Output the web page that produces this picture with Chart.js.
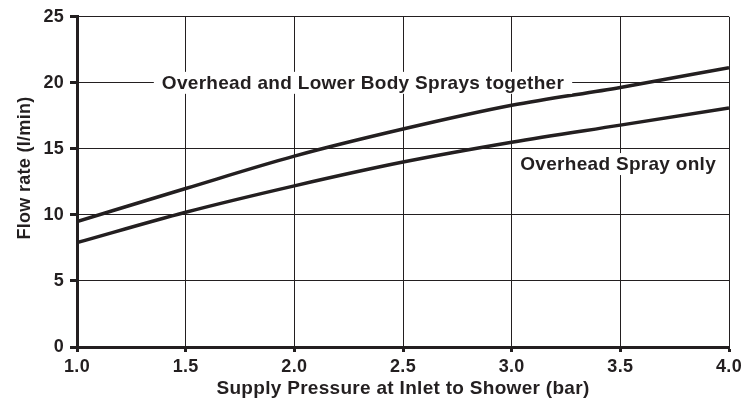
<!DOCTYPE html>
<html>
<head>
<meta charset="utf-8">
<script src="https://cdn.jsdelivr.net/npm/chart.js@4/dist/chart.umd.min.js"></script>
<style>
  html, body { margin: 0; padding: 0; background: #fff; }
  #wrap { width: 749px; height: 407px; }
</style>
</head>
<body>
<div id="wrap"><canvas id="flowChart"></canvas></div>
<script>
// pressure (bar) and flow rate (l/min)
const pressure = [1.0, 1.5, 2.0, 2.5, 3.0, 3.5, 4.0];
const bothSprays = [9.5, 12.0, 14.45, 16.5, 18.3, 19.65, 21.15];
const overheadOnly = [7.9, 10.2, 12.2, 14.0, 15.5, 16.8, 18.1];

const labelTexts = ['Overhead and Lower Body Sprays together', 'Overhead Spray only'];
const labelX = [2.316, 3.49];
const labelY = [20, 13.85];
const yTitle = 'Flow rate (I/min)';

const ink = '#231f20';
const family = '"Liberation Sans", Arial, sans-serif';
const spacing = '0.3px';

const curveLabels = {
    id: 'curveLabels',
    beforeDraw(chart) {
        chart.ctx.letterSpacing = spacing;
    },
    afterDatasetsDraw(chart) {
        const ctx = chart.ctx;
        const xs = chart.scales.x, ys = chart.scales.y;
        ctx.save();
        ctx.letterSpacing = spacing;
        ctx.font = 'bold 19px ' + family;
        ctx.textAlign = 'center';
        ctx.textBaseline = 'middle';
        labelTexts.forEach((txt, i) => {
            const cx = xs.getPixelForValue(labelX[i]);
            const cy = ys.getPixelForValue(labelY[i]);
            const w = ctx.measureText(txt).width;
            ctx.fillStyle = '#fff';
            ctx.fillRect(cx - w / 2 - 8, cy - 11, w + 16, 22);
            ctx.fillStyle = ink;
            ctx.fillText(txt, cx, cy + 1);
        });
        // y axis title, sitting a little above the middle as in the print
        ctx.font = 'bold 18px ' + family;
        ctx.translate(25, 168);
        ctx.rotate(-Math.PI / 2);
        ctx.fillText(yTitle, 0, 0);
        ctx.restore();
    }
};

function toPoints(ys) {
    return pressure.map((p, i) => ({ x: p, y: ys[i] }));
}

const lineStyle = {
    borderColor: ink,
    borderWidth: 3.5,
    pointRadius: 0,
    fill: false,
    cubicInterpolationMode: 'monotone'
};

const tickFont = { family: family, size: 18, weight: 'bold' };

new Chart(document.getElementById('flowChart').getContext('2d'), {
    type: 'line',
    data: {
        datasets: [
            Object.assign({ label: labelTexts[0], data: toPoints(bothSprays) }, lineStyle),
            Object.assign({ label: labelTexts[1], data: toPoints(overheadOnly) }, lineStyle)
        ]
    },
    options: {
        responsive: true,
        maintainAspectRatio: false,
        animation: false,
        layout: { padding: { left: 0, right: 20, top: 16, bottom: 0 } },
        plugins: {
            legend: { display: false },
            tooltip: { enabled: false }
        },
        scales: {
            x: {
                type: 'linear',
                min: 1.0,
                max: 4.0,
                ticks: {
                    stepSize: 0.5,
                    color: ink,
                    font: tickFont,
                    padding: 4,
                    callback: v => v.toFixed(1)
                },
                grid: { color: ink, lineWidth: 1, tickLength: 5, tickWidth: 3, tickColor: ink },
                border: { color: ink, width: 3 },
                title: {
                    display: true,
                    text: 'Supply Pressure at Inlet to Shower (bar)',
                    color: ink,
                    font: { family: family, size: 19, weight: 'bold' },
                    padding: { top: 0, bottom: 7 }
                },
                afterFit: s => { s.height = 60; }
            },
            y: {
                min: 0,
                max: 25,
                ticks: {
                    stepSize: 5,
                    color: ink,
                    font: tickFont,
                    padding: 6
                },
                grid: { color: ink, lineWidth: 1, tickLength: 7, tickWidth: 3, tickColor: ink },
                border: { color: ink, width: 3 },
                afterFit: s => { s.width = 77; }
            }
        }
    },
    plugins: [curveLabels]
});
</script>
</body>
</html>
